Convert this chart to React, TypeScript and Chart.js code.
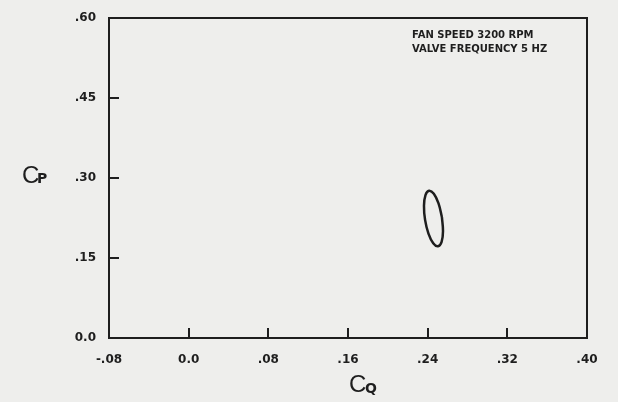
import React, { useEffect, useRef } from 'react';
import { Chart, registerables } from 'chart.js';

Chart.register(...registerables);

// ---- data ----
const xTickValues = [-0.08, 0, 0.08, 0.16, 0.24, 0.32, 0.4];
const xTickLabels = ['-.08', '0.0', '.08', '.16', '.24', '.32', '.40'];
const yTickValues = [0, 0.15, 0.3, 0.45, 0.6];
const yTickLabels = ['0.0', '.15', '.30', '.45', '.60'];

// hysteresis loop (C_Q, C_P)
const loopCQ = [0.2543, 0.2509, 0.2462, 0.2414, 0.2378, 0.2363, 0.2374, 0.2408, 0.2456, 0.2504, 0.254, 0.2554, 0.2543];
const loopCP = [0.2266, 0.2524, 0.2705, 0.2762, 0.268, 0.248, 0.2215, 0.1958, 0.1776, 0.1719, 0.1802, 0.2002, 0.2266];

const noteLines = ['FAN SPEED 3200 RPM', 'VALVE FREQUENCY 5 HZ'];
const xTitle = ['C', 'Q'];
const yTitle = ['C', 'P'];

const INK = '#1e1e1e';
const BG = '#eeeeec';
const TICK_FONT = '"DejaVu Sans", sans-serif';

const decorPlugin = {
  id: 'decor',
  beforeDraw(chart: any) {
    const { ctx, width, height } = chart;
    ctx.save();
    ctx.fillStyle = BG;
    ctx.fillRect(0, 0, width, height);
    ctx.restore();
  },
  afterDraw(chart: any) {
    const { ctx, chartArea: a, scales } = chart;
    ctx.save();
    ctx.strokeStyle = INK;
    ctx.lineWidth = 2;
    ctx.strokeRect(a.left, a.top, a.right - a.left, a.bottom - a.top);
    ctx.beginPath();
    xTickValues.slice(1, -1).forEach((v) => {
      const px = Math.round(scales.x.getPixelForValue(v));
      ctx.moveTo(px, a.bottom);
      ctx.lineTo(px, a.bottom - 10);
    });
    yTickValues.slice(1, -1).forEach((v) => {
      const py = Math.round(scales.y.getPixelForValue(v));
      ctx.moveTo(a.left, py);
      ctx.lineTo(a.left + 10, py);
    });
    ctx.stroke();

    ctx.fillStyle = INK;
    ctx.textBaseline = 'alphabetic';
    ctx.textAlign = 'left';
    // y title  C_P
    const yBase = a.top + 165;
    ctx.font = '24px "Liberation Sans", sans-serif';
    ctx.fillText(yTitle[0], a.left - 87, yBase);
    ctx.font = 'bold 14px "DejaVu Sans", sans-serif';
    ctx.fillText(yTitle[1], a.left - 72, yBase);
    // x title  C_Q
    const xLeft = a.left + 240;
    const xBase = a.bottom + 54;
    ctx.font = '24px "Liberation Sans", sans-serif';
    ctx.fillText(xTitle[0], xLeft, xBase);
    ctx.font = 'bold 14px "DejaVu Sans", sans-serif';
    ctx.fillText(xTitle[1], xLeft + 16, xBase + 1);
    // note
    ctx.font = 'bold 10px "DejaVu Sans", sans-serif';
    ctx.fillText(noteLines[0], a.left + 303, a.top + 20);
    ctx.fillText(noteLines[1], a.left + 303, a.top + 34);
    ctx.restore();
  },
};

export default function App() {
  const ref = useRef<HTMLCanvasElement | null>(null);

  useEffect(() => {
    document.body.style.margin = '0';
    document.body.style.background = BG;
    const canvas = ref.current;
    if (!canvas) return;
    const chart = new Chart(canvas, {
      type: 'scatter',
      data: {
        datasets: [
          {
            label: 'loop',
            data: loopCQ.map((x, i) => ({ x, y: loopCP[i] })),
            showLine: true,
            borderColor: INK,
            borderWidth: 2.5,
            pointRadius: 0,
            tension: 0.4,
            fill: false,
          },
        ],
      },
      options: {
        responsive: false,
        animation: false,
        layout: { padding: { left: 0, top: 18, right: 31, bottom: 0 } },
        plugins: { legend: { display: false }, tooltip: { enabled: false } },
        scales: {
          x: {
            type: 'linear',
            min: -0.08,
            max: 0.4,
            grid: { display: false },
            border: { display: false },
            afterBuildTicks: (scale: any) => {
              scale.ticks = xTickValues.map((value) => ({ value }));
            },
            afterFit: (scale: any) => {
              scale.height = 64;
            },
            ticks: {
              padding: 7,
              color: INK,
              maxRotation: 0,
              autoSkip: false,
              font: { family: TICK_FONT, size: 12, weight: 'bold' },
              callback: (value: any) => {
                const i = xTickValues.findIndex((v) => Math.abs(v - Number(value)) < 1e-9);
                return i >= 0 ? xTickLabels[i] : '';
              },
            },
          },
          y: {
            type: 'linear',
            min: 0,
            max: 0.6,
            grid: { display: false },
            border: { display: false },
            afterBuildTicks: (scale: any) => {
              scale.ticks = yTickValues.map((value) => ({ value }));
            },
            afterFit: (scale: any) => {
              scale.width = 109;
            },
            ticks: {
              padding: 5,
              color: INK,
              autoSkip: false,
              font: { family: TICK_FONT, size: 12, weight: 'bold' },
              callback: (value: any) => {
                const i = yTickValues.findIndex((v) => Math.abs(v - Number(value)) < 1e-9);
                return i >= 0 ? yTickLabels[i] : '';
              },
            },
          },
        },
      },
      plugins: [decorPlugin],
    });
    return () => chart.destroy();
  }, []);

  return (
    <div style={{ width: 618, height: 402, background: BG }}>
      <canvas ref={ref} width={618} height={402} style={{ display: 'block' }} />
    </div>
  );
}
